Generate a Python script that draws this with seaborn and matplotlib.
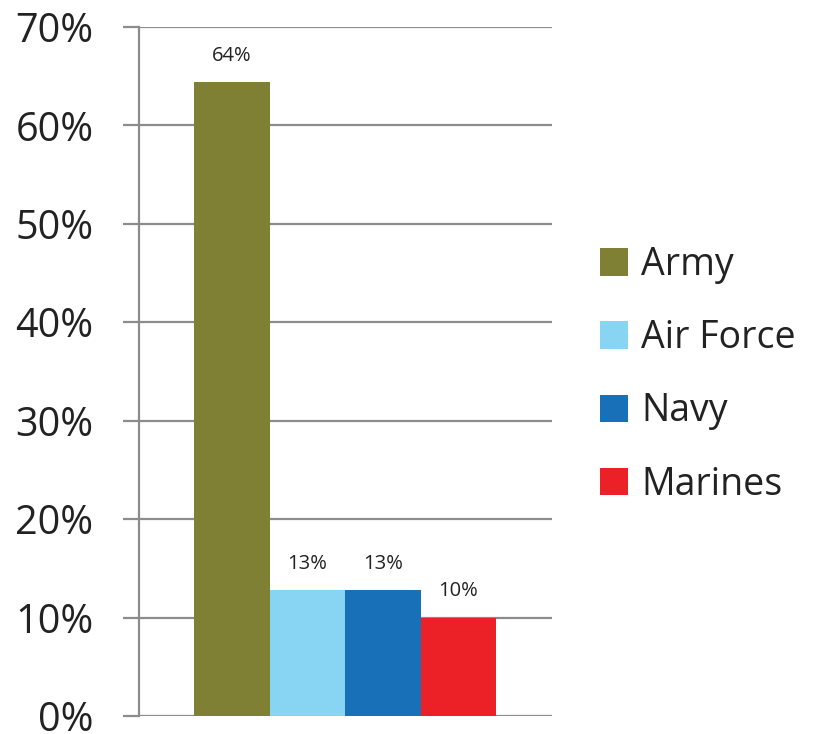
import pandas as pd
import matplotlib
matplotlib.use("Agg")
import matplotlib.pyplot as plt
import seaborn as sns

# Share of personnel by branch
branches = ["Army", "Air Force", "Navy", "Marines"]
shares = [64.4, 12.8, 12.8, 10.0]
colors = ["#7F8033", "#87D4F3", "#1770B8", "#EC2027"]
yticks = [0, 10, 20, 30, 40, 50, 60, 70]

df = pd.DataFrame({"group": [""] * len(branches), "branch": branches, "share": shares})

sns.set_style("white")
plt.rcParams["font.family"] = ["Open Sans", "DejaVu Sans"]

fig = plt.figure(figsize=(8.16, 7.34), dpi=100)
ax = fig.add_axes([0.170, 0.0245, 0.506, 0.939])

sns.barplot(data=df, x="group", y="share", hue="branch", hue_order=branches,
            palette=colors, width=0.73, saturation=1, linewidth=0, ax=ax, zorder=3)

# value labels above each bar
for patch, v in zip(ax.patches, shares):
    ax.annotate(f"{v:.0f}%", (patch.get_x() + patch.get_width() / 2, patch.get_height()),
                xytext=(0, 19), textcoords="offset points", ha="center", va="center",
                fontsize=14.5, color="#222222")

ax.set_ylim(0, 70)
ax.set_xlim(-0.5, 0.5)
ax.set_yticks(yticks)
ax.set_yticklabels([f"{t}%" for t in yticks], fontsize=28.5, color="#222222")
ax.set_xticks([])
ax.set_xlabel("")
ax.set_ylabel("")

ax.yaxis.grid(True, color="#8C8C8C", linewidth=1.6, zorder=0)
ax.tick_params(axis="y", length=11.5, width=1.6, color="#8C8C8C", pad=21, left=True)
for side in ["top", "right", "bottom"]:
    ax.spines[side].set_visible(False)
ax.spines["left"].set_color("#8C8C8C")
ax.spines["left"].set_linewidth(1.6)

handles, labels = ax.get_legend_handles_labels()
leg = ax.legend(handles, labels, loc="center left", bbox_to_anchor=(1.08, 0.495),
                frameon=False, fontsize=27, handlelength=0.75, handleheight=0.75,
                labelspacing=0.94, handletextpad=0.35, borderaxespad=0)
for t in leg.get_texts():
    t.set_color("#222222")

fig.savefig("out.png", dpi=100)
